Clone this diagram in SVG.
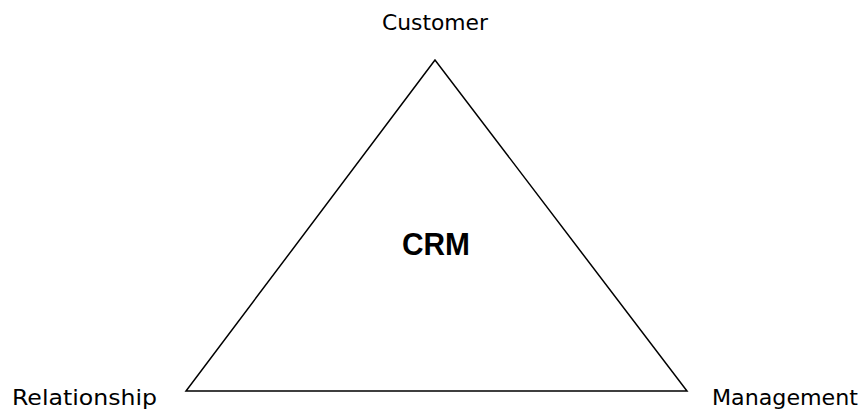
<svg xmlns="http://www.w3.org/2000/svg" width="864" height="411" viewBox="0 0 864 411">
<style>
.lbl{font-family:"DejaVu Sans","Liberation Sans",sans-serif;font-size:22px;fill:#000;}
.title{font-family:"Liberation Sans",Arial,sans-serif;font-size:31px;font-weight:bold;fill:#000;}
.edge{fill:none;stroke:#000;stroke-width:1.5;}
</style>
<rect width="864" height="411" fill="#fff"/>
<g id="connectors">
<polygon class="edge" points="435,60 186,391 687,391"/>
</g>
<g id="crm"><text class="title" x="402" y="255" textLength="68" lengthAdjust="spacingAndGlyphs">CRM</text></g>
<g id="customer"><text class="lbl" x="382" y="30" textLength="106" lengthAdjust="spacingAndGlyphs">Customer</text></g>
<g id="relationship"><text class="lbl" x="12" y="405" textLength="145" lengthAdjust="spacingAndGlyphs">Relationship</text></g>
<g id="management"><text class="lbl" x="712" y="405" textLength="146" lengthAdjust="spacingAndGlyphs">Management</text></g>
</svg>
